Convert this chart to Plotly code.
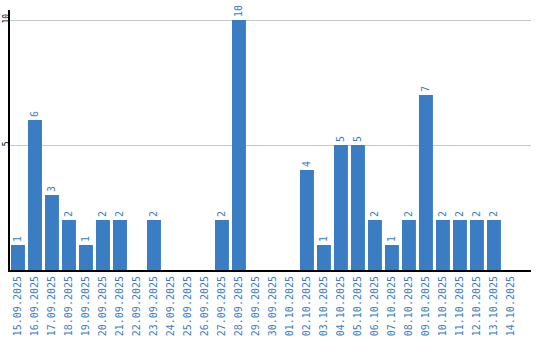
import plotly.graph_objects as go

dates = ["15.09.2025", "16.09.2025", "17.09.2025", "18.09.2025", "19.09.2025",
         "20.09.2025", "21.09.2025", "22.09.2025", "23.09.2025", "24.09.2025",
         "25.09.2025", "26.09.2025", "27.09.2025", "28.09.2025", "29.09.2025",
         "30.09.2025", "01.10.2025", "02.10.2025", "03.10.2025", "04.10.2025",
         "05.10.2025", "06.10.2025", "07.10.2025", "08.10.2025", "09.10.2025",
         "10.10.2025", "11.10.2025", "12.10.2025", "13.10.2025", "14.10.2025"]
values = [1, 6, 3, 2, 1, 2, 2, 0, 2, 0, 0, 0, 2, 10, 0, 0, 0, 4, 1, 5, 5, 2, 1, 2, 7, 2, 2, 2, 2, 0]
y_ticks = [5, 10]

BLUE = "#3b7dc3"
labels = [str(v) if v > 0 else "" for v in values]

fig = go.Figure(go.Bar(
    x=dates, y=values, marker=dict(color=BLUE, line=dict(width=0)),
    width=0.82, text=labels, textposition="outside", textangle=-90,
    textfont=dict(family="DejaVu Sans Mono", size=10, color=BLUE),
    cliponaxis=False,
))

fig.update_layout(
    width=540, height=340, margin=dict(l=10, r=9, t=10, b=70),
    plot_bgcolor="white", paper_bgcolor="white", showlegend=False,
    bargap=0.18,
)
fig.update_xaxes(
    type="category", range=[-0.47, 30.18], tickangle=-90, automargin=False,
    tickfont=dict(family="DejaVu Sans Mono", size=10, color=BLUE),
    showline=True, linecolor="black", linewidth=2, showgrid=False, ticks="",
)
fig.update_yaxes(
    range=[0, 10.4], tickvals=y_ticks, ticktext=[str(t) for t in y_ticks],
    tickangle=-90, automargin=False, ticklabelstandoff=-4,
    tickfont=dict(family="DejaVu Sans Mono", size=8, color="black"),
    showline=True, linecolor="black", linewidth=2,
    showgrid=True, gridcolor="#c8c8c8", gridwidth=1, zeroline=False, ticks="",
)

fig.write_html("out.html")
